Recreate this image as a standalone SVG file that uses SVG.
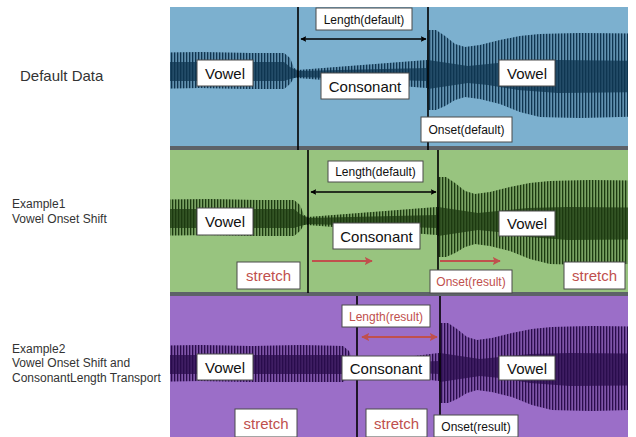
<svg xmlns="http://www.w3.org/2000/svg" width="636" height="437" viewBox="0 0 636 437">
<style>
  .side{font-family:"Liberation Sans",Arial,sans-serif;fill:#333;}
  .box{fill:#fff;stroke:#4a4a4a;stroke-width:1;}
  .lbl{font-family:"Liberation Sans",Arial,sans-serif;font-size:15px;fill:#111;text-anchor:middle;}
  .sm{font-family:"Liberation Sans",Arial,sans-serif;font-size:12px;fill:#111;text-anchor:middle;}
  .red{fill:#c0504d;}
  .vline{stroke:#000;stroke-width:1.6;}
  .sep{fill:#5d6268;}
</style>
<defs>
  <pattern id="stB" width="3" height="4" patternUnits="userSpaceOnUse"><rect width="1.3" height="4" fill="#0f3550"/></pattern>
  <pattern id="stG" width="3" height="4" patternUnits="userSpaceOnUse"><rect width="1.3" height="4" fill="#1c3a10"/></pattern>
  <pattern id="stP" width="3" height="4" patternUnits="userSpaceOnUse"><rect width="1.3" height="4" fill="#2a0c4c"/></pattern>
  <clipPath id="cB"><rect x="170" y="7" width="458" height="139"/></clipPath>
  <clipPath id="cG"><rect x="170" y="150" width="458" height="142"/></clipPath>
  <clipPath id="cP"><rect x="170" y="296" width="458" height="141"/></clipPath>
  <marker id="ak" viewBox="0 0 10 10" refX="9" refY="5" markerWidth="6" markerHeight="6" orient="auto-start-reverse" markerUnits="userSpaceOnUse"><path d="M0,0 L10,5 L0,10 L2,5 Z" fill="#000"/></marker>
  <marker id="ar" viewBox="0 0 10 10" refX="9" refY="5" markerWidth="8" markerHeight="8" orient="auto-start-reverse" markerUnits="userSpaceOnUse"><path d="M0,0 L10,5 L0,10 L2,5 Z" fill="#c0504d"/></marker>
</defs>

<!-- panels -->
<g id="panel-default">
  <rect x="170" y="7" width="458" height="139" fill="#7cb0cf"/>
  <g clip-path="url(#cB)">
    <path fill="#0f3550" fill-opacity="0.25" d="M140,53 L200,52 L250,53 L284,53 L290,58 L294,68 L298,70 L427,60 L428,30 L436,30 L445,36 L455,44 L465,47 L480,45 L500,40 L520,36 L540,34 L580,33 L660,34 L660,116 L580,118 L540,117 L520,112 L500,104 L480,99 L465,97 L455,100 L445,106 L436,110 L428,110 L427,88 L298,78 L294,78 L290,84 L284,89 L250,89 L200,88 L140,89 Z"/>
    <path fill="url(#stB)" d="M140,53 L200,52 L250,53 L284,53 L290,58 L294,68 L298,70 L427,60 L428,30 L436,30 L445,36 L455,44 L465,47 L480,45 L500,40 L520,36 L540,34 L580,33 L660,34 L660,116 L580,118 L540,117 L520,112 L500,104 L480,99 L465,97 L455,100 L445,106 L436,110 L428,110 L427,88 L298,78 L294,78 L290,84 L284,89 L250,89 L200,88 L140,89 Z"/>
    <path fill="#0f3550" fill-opacity="0.75" d="M140,62 L284,62 L290,67 L298,71 L427,68 L428,60 L448,63 L468,66 L488,64 L518,61 L558,60 L660,61 L660,92 L558,93 L518,90 L488,85 L468,83 L448,86 L428,89 L427,81 L298,77 L290,79 L284,81 L140,81 Z"/>
  </g>
  <rect class="sep" x="170" y="146" width="458" height="4"/>
</g>

<g id="panel-example1">
  <rect x="170" y="150" width="458" height="142" fill="#98c47f"/>
  <g clip-path="url(#cG)">
    <g transform="translate(10,147)">
      <path fill="#1c3a10" fill-opacity="0.25" d="M130,53 L200,52 L250,53 L284,53 L290,58 L294,68 L298,70 L427,60 L428,30 L436,30 L445,36 L455,44 L465,47 L480,45 L500,40 L520,36 L540,34 L580,33 L660,34 L660,116 L580,118 L540,117 L520,112 L500,104 L480,99 L465,97 L455,100 L445,106 L436,110 L428,110 L427,88 L298,78 L294,78 L290,84 L284,89 L250,89 L200,88 L130,89 Z"/>
      <path fill="url(#stG)" d="M130,53 L200,52 L250,53 L284,53 L290,58 L294,68 L298,70 L427,60 L428,30 L436,30 L445,36 L455,44 L465,47 L480,45 L500,40 L520,36 L540,34 L580,33 L660,34 L660,116 L580,118 L540,117 L520,112 L500,104 L480,99 L465,97 L455,100 L445,106 L436,110 L428,110 L427,88 L298,78 L294,78 L290,84 L284,89 L250,89 L200,88 L130,89 Z"/>
      <path fill="#1c3a10" fill-opacity="0.75" d="M130,62 L284,62 L290,67 L298,71 L427,68 L428,60 L448,63 L468,66 L488,64 L518,61 L558,60 L660,61 L660,92 L558,93 L518,90 L488,85 L468,83 L448,86 L428,89 L427,81 L298,77 L290,79 L284,81 L130,81 Z"/>
    </g>
  </g>
  <rect class="sep" x="170" y="292" width="458" height="4"/>
</g>

<g id="panel-example2">
  <rect x="170" y="296" width="458" height="141" fill="#9b6ec8"/>
  <g clip-path="url(#cP)">
    <g transform="translate(0,293)">
      <path fill="#2a0c4c" fill-opacity="0.25" d="M140,53 L200,52 L250,53 L300,52 L343,53 L349,58 L353,68 L357,70 L439,60 L440,30 L448,30 L457,36 L467,44 L477,47 L492,45 L512,40 L532,36 L552,34 L592,33 L672,34 L672,116 L592,118 L552,117 L532,112 L512,104 L492,99 L477,97 L467,100 L457,106 L448,110 L440,110 L439,88 L357,78 L353,78 L349,84 L343,89 L300,89 L250,89 L200,88 L140,89 Z"/>
      <path fill="url(#stP)" d="M140,53 L200,52 L250,53 L300,52 L343,53 L349,58 L353,68 L357,70 L439,60 L440,30 L448,30 L457,36 L467,44 L477,47 L492,45 L512,40 L532,36 L552,34 L592,33 L672,34 L672,116 L592,118 L552,117 L532,112 L512,104 L492,99 L477,97 L467,100 L457,106 L448,110 L440,110 L439,88 L357,78 L353,78 L349,84 L343,89 L300,89 L250,89 L200,88 L140,89 Z"/>
      <path fill="#2a0c4c" fill-opacity="0.75" d="M140,62 L343,62 L349,67 L357,71 L439,68 L440,60 L460,63 L480,66 L500,64 L530,61 L570,60 L672,61 L672,92 L570,93 L530,90 L500,85 L480,83 L460,86 L440,89 L439,81 L357,77 L349,79 L343,81 L140,81 Z"/>
    </g>
  </g>
</g>

<!-- connectors: boundary lines and arrows -->
<g id="connectors">
  <line class="vline" x1="298" y1="7" x2="298" y2="150"/>
  <line class="vline" x1="428" y1="7" x2="428" y2="150"/>
  <line class="vline" x1="308" y1="150" x2="308" y2="293"/>
  <line class="vline" x1="438" y1="150" x2="438" y2="293"/>
  <line class="vline" x1="357" y1="296" x2="357" y2="437"/>
  <line class="vline" x1="440" y1="296" x2="440" y2="437"/>
  <line x1="301" y1="39" x2="426" y2="39" stroke="#000" stroke-width="1.6" marker-start="url(#ak)" marker-end="url(#ak)"/>
  <line x1="311" y1="192" x2="436" y2="192" stroke="#000" stroke-width="1.6" marker-start="url(#ak)" marker-end="url(#ak)"/>
  <line x1="312" y1="261" x2="372" y2="261" stroke="#c0504d" stroke-width="2" marker-end="url(#ar)"/>
  <line x1="440" y1="261" x2="500" y2="261" stroke="#c0504d" stroke-width="2" marker-end="url(#ar)"/>
  <line x1="362" y1="337" x2="437" y2="337" stroke="#c0504d" stroke-width="2" marker-start="url(#ar)" marker-end="url(#ar)"/>
</g>

<!-- side labels -->
<g id="label-default">
  <text class="side" x="20" y="81" font-size="15">Default Data</text>
</g>
<g id="label-example1">
  <text class="side" x="12" y="208" font-size="12">Example1</text>
  <text class="side" x="12" y="223" font-size="12">Vowel Onset Shift</text>
</g>
<g id="label-example2">
  <text class="side" x="12" y="353" font-size="12">Example2</text>
  <text class="side" x="12" y="367" font-size="12">Vowel Onset Shift and</text>
  <text class="side" x="12" y="382" font-size="12">ConsonantLength Transport</text>
</g>

<!-- default data boxes -->
<g id="d-length"><rect class="box" x="316" y="8" width="96" height="22"/><text class="sm" x="364" y="23.5">Length(default)</text></g>
<g id="d-vowel1"><rect class="box" x="197" y="60" width="56" height="26"/><text class="lbl" x="225" y="78.5">Vowel</text></g>
<g id="d-consonant"><rect class="box" x="321" y="73" width="88" height="26"/><text class="lbl" x="365" y="91.5">Consonant</text></g>
<g id="d-vowel2"><rect class="box" x="499" y="60" width="56" height="26"/><text class="lbl" x="527" y="78.5">Vowel</text></g>
<g id="d-onset"><rect class="box" x="421" y="117" width="91" height="25"/><text class="sm" x="466.5" y="134" font-size="11.5">Onset(default)</text></g>

<!-- example1 boxes -->
<g id="e1-length"><rect class="box" x="328" y="161" width="95" height="21"/><text class="sm" x="375.5" y="176">Length(default)</text></g>
<g id="e1-vowel1"><rect class="box" x="197" y="208" width="56" height="27"/><text class="lbl" x="225" y="227">Vowel</text></g>
<g id="e1-consonant"><rect class="box" x="333" y="223" width="87" height="26"/><text class="lbl" x="376.5" y="241.5">Consonant</text></g>
<g id="e1-vowel2"><rect class="box" x="499" y="211" width="56" height="25"/><text class="lbl" x="527" y="229">Vowel</text></g>
<g id="e1-stretch1"><rect class="box" x="237" y="262" width="63" height="27"/><text class="lbl red" x="268.5" y="281" font-size="15.5">stretch</text></g>
<g id="e1-onset"><rect class="box" x="430" y="270" width="82" height="23"/><text class="sm red" x="471" y="286">Onset(result)</text></g>
<g id="e1-stretch2"><rect class="box" x="564" y="262" width="61" height="27"/><text class="lbl red" x="594.5" y="281" font-size="15.5">stretch</text></g>

<!-- example2 boxes -->
<g id="e2-length"><rect class="box" x="342" y="305" width="88" height="22"/><text class="sm red" x="386" y="320.5">Length(result)</text></g>
<g id="e2-vowel1"><rect class="box" x="197" y="354" width="56" height="26"/><text class="lbl" x="225" y="372.5">Vowel</text></g>
<g id="e2-consonant"><rect class="box" x="342" y="356" width="88" height="24"/><text class="lbl" x="386" y="373.5">Consonant</text></g>
<g id="e2-vowel2"><rect class="box" x="499" y="356" width="56" height="24"/><text class="lbl" x="527" y="373.5">Vowel</text></g>
<g id="e2-stretch1"><rect class="box" x="235" y="409" width="62" height="28"/><text class="lbl red" x="266" y="428.5" font-size="15.5">stretch</text></g>
<g id="e2-stretch2"><rect class="box" x="366" y="409" width="61" height="28"/><text class="lbl red" x="396.5" y="428.5" font-size="15.5">stretch</text></g>
<g id="e2-onset"><rect class="box" x="434" y="415" width="84" height="22"/><text class="sm" x="476" y="431">Onset(result)</text></g>
</svg>
